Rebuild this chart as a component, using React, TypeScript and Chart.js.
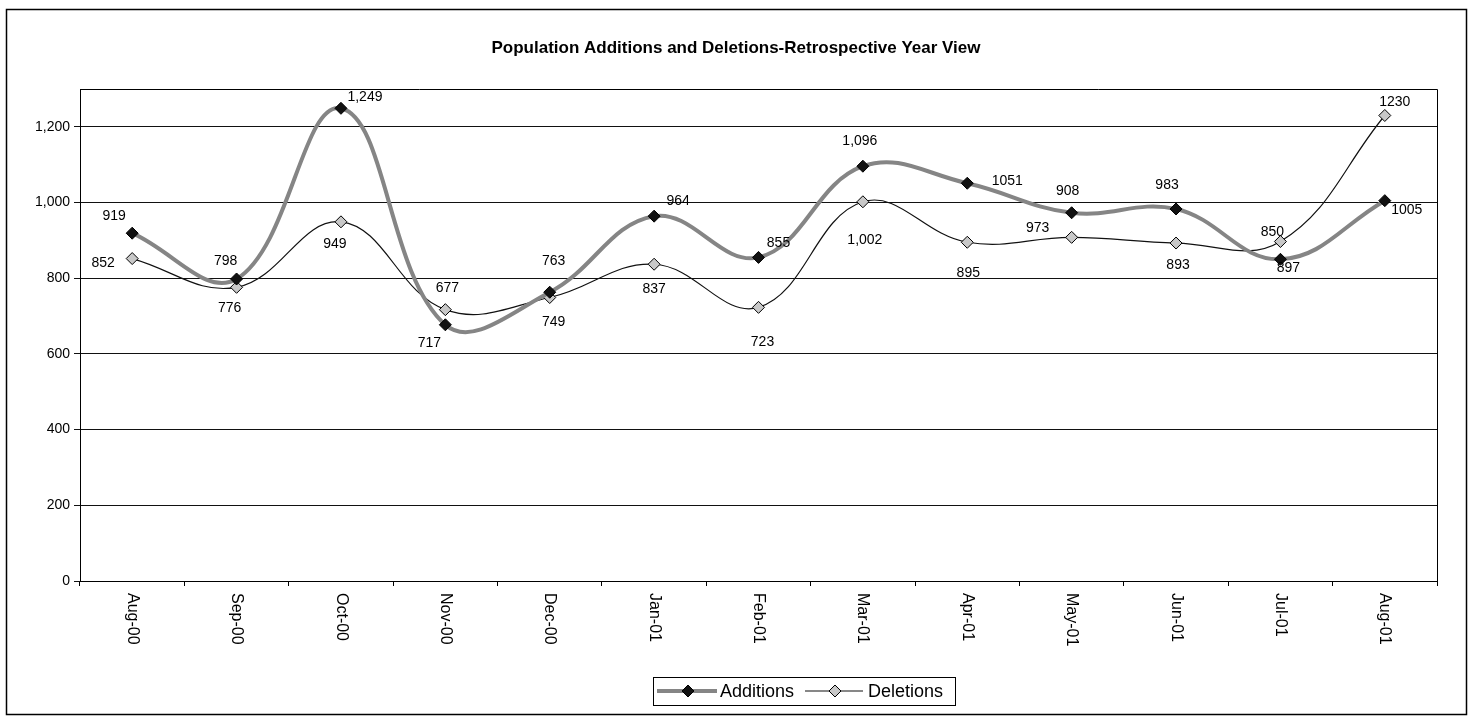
import React, { useEffect, useRef } from 'react';
import { Chart, registerables } from 'chart.js';

Chart.register(...registerables);

const titleText = 'Population Additions and Deletions-Retrospective Year View';

const categories = ['Aug-00', 'Sep-00', 'Oct-00', 'Nov-00', 'Dec-00', 'Jan-01', 'Feb-01', 'Mar-01', 'Apr-01', 'May-01', 'Jun-01', 'Jul-01', 'Aug-01'];

const additions = [919, 798, 1249, 677, 763, 964, 855, 1096, 1051, 973, 983, 850, 1005];
const deletions = [852, 776, 949, 717, 749, 837, 723, 1002, 895, 908, 893, 897, 1230];

const additionsLabels = ['919', '798', '1,249', '677', '763', '964', '855', '1,096', '1051', '973', '983', '850', '1005'];
const deletionsLabels = ['852', '776', '949', '717', '749', '837', '723', '1,002', '895', '908', '893', '897', '1230'];

// label placement relative to each point (dx, dy in px)
const additionsLabelOffsets: [number, number][] = [
  [-18, -17], [-11, -18], [24, -11], [2, -37], [4, -31], [24, -15], [20, -14],
  [-3, -25], [40, -2], [-34, 15], [-9, -24], [-8, -27], [22, 9],
];
const deletionsLabelOffsets: [number, number][] = [
  [-29, 5], [-7, 21], [-6, 22], [-16, 33], [4, 25], [0, 25], [4, 35],
  [2, 38], [1, 31], [-4, -46], [2, 22], [8, 27], [10, -13],
];

const yMin = 0;
const yMax = 1300;
const yStep = 200;

const FONT = '"Liberation Sans", Arial, Helvetica, sans-serif';
const ADD_LINE = '#858585';
const ADD_POINT = '#111111';
const DEL_LINE = '#111111';
const DEL_POINT = '#c8c8c8';

function diamond(ctx: CanvasRenderingContext2D, x: number, y: number, r: number, fill: string, stroke: string) {
  ctx.beginPath();
  ctx.moveTo(x, y - r);
  ctx.lineTo(x + r, y);
  ctx.lineTo(x, y + r);
  ctx.lineTo(x - r, y);
  ctx.closePath();
  ctx.fillStyle = fill;
  ctx.fill();
  ctx.lineWidth = 1;
  ctx.strokeStyle = stroke;
  ctx.stroke();
}

const decorPlugin = {
  id: 'decor',
  afterDatasetsDraw(chart: any) {
    const ctx: CanvasRenderingContext2D = chart.ctx;
    ctx.save();
    ctx.font = `14px ${FONT}`;
    ctx.fillStyle = '#000';
    ctx.textAlign = 'center';
    ctx.textBaseline = 'middle';
    const sets: [number, string[], [number, number][]][] = [
      [0, additionsLabels, additionsLabelOffsets],
      [1, deletionsLabels, deletionsLabelOffsets],
    ];
    sets.forEach(([idx, labels, offs]) => {
      const meta = chart.getDatasetMeta(idx);
      meta.data.forEach((pt: any, i: number) => {
        const [dx, dy] = offs[i];
        ctx.fillText(labels[i], pt.x + dx, pt.y + dy);
      });
    });
    ctx.restore();
  },
  afterDraw(chart: any) {
    const ctx: CanvasRenderingContext2D = chart.ctx;
    const area = chart.chartArea;
    ctx.save();

    // plot border (top and right)
    ctx.strokeStyle = '#000';
    ctx.lineWidth = 1;
    ctx.beginPath();
    ctx.moveTo(Math.round(area.left) + 0.5, Math.round(area.top) + 0.5);
    ctx.lineTo(Math.round(area.right) + 0.5, Math.round(area.top) + 0.5);
    ctx.lineTo(Math.round(area.right) + 0.5, Math.round(area.bottom) + 0.5);
    ctx.stroke();

    // outer border
    ctx.lineWidth = 1.5;
    ctx.strokeRect(6.5, 9.5, 1460, 705);

    // title
    ctx.fillStyle = '#000';
    ctx.font = `bold 17px ${FONT}`;
    ctx.textAlign = 'center';
    ctx.textBaseline = 'middle';
    ctx.fillText(titleText, 736, 48);

    // x category labels, rotated 90deg clockwise
    const xs = chart.scales.x;
    ctx.font = `16px ${FONT}`;
    categories.forEach((c, i) => {
      const x = xs.getPixelForValue(i);
      ctx.save();
      ctx.translate(x, area.bottom + 12);
      ctx.rotate(Math.PI / 2);
      ctx.textAlign = 'left';
      ctx.textBaseline = 'middle';
      ctx.fillText(c, 0, 0);
      ctx.restore();
    });

    // legend
    ctx.lineWidth = 1;
    ctx.strokeStyle = '#000';
    ctx.strokeRect(653.5, 677.5, 302, 28);
    const ly = 691;
    ctx.beginPath();
    ctx.strokeStyle = ADD_LINE;
    ctx.lineWidth = 4;
    ctx.moveTo(657, ly);
    ctx.lineTo(717, ly);
    ctx.stroke();
    diamond(ctx, 688, ly, 6, ADD_POINT, '#000');
    ctx.beginPath();
    ctx.strokeStyle = DEL_LINE;
    ctx.lineWidth = 1.2;
    ctx.moveTo(805, ly);
    ctx.lineTo(863, ly);
    ctx.stroke();
    diamond(ctx, 835, ly, 6, DEL_POINT, '#000');
    ctx.fillStyle = '#000';
    ctx.font = `18px ${FONT}`;
    ctx.textAlign = 'left';
    ctx.textBaseline = 'middle';
    ctx.fillText('Additions', 720, ly + 1);
    ctx.fillText('Deletions', 868, ly + 1);

    ctx.restore();
  },
};

export default function App() {
  const canvasRef = useRef<HTMLCanvasElement | null>(null);

  useEffect(() => {
    const canvas = canvasRef.current;
    if (!canvas) return;
    const chart = new Chart(canvas, {
      type: 'line',
      data: {
        labels: categories,
        datasets: [
          {
            label: 'Additions',
            data: additions,
            borderColor: ADD_LINE,
            borderWidth: 4,
            tension: 0.4,
            pointStyle: 'rectRot',
            pointRadius: 6,
            pointBackgroundColor: ADD_POINT,
            pointBorderColor: '#000',
            pointBorderWidth: 1,
            fill: false,
          },
          {
            label: 'Deletions',
            data: deletions,
            borderColor: DEL_LINE,
            borderWidth: 1.2,
            tension: 0.4,
            pointStyle: 'rectRot',
            pointRadius: 6,
            pointBackgroundColor: DEL_POINT,
            pointBorderColor: '#000',
            pointBorderWidth: 1,
            fill: false,
          },
        ],
      },
      options: {
        responsive: false,
        animation: false,
        devicePixelRatio: 1,
        layout: { padding: { top: 89, right: 35, bottom: 0, left: 0 } },
        plugins: {
          legend: { display: false },
          title: { display: false },
          tooltip: { enabled: false },
        },
        scales: {
          x: {
            type: 'category',
            offset: true,
            grid: {
              display: true,
              offset: true,
              drawOnChartArea: false,
              drawTicks: true,
              tickLength: 5,
              color: '#000',
            },
            border: { display: true, color: '#000', width: 1 },
            ticks: { display: false },
            afterFit: (scale: any) => {
              scale.height = 136;
            },
          },
          y: {
            min: yMin,
            max: yMax,
            grid: {
              color: '#111',
              lineWidth: 1,
              drawTicks: true,
              tickLength: 6,
            },
            border: { display: true, color: '#000', width: 1 },
            ticks: {
              stepSize: yStep,
              padding: 4,
              color: '#000',
              font: { family: FONT, size: 14 },
              callback: (v: any) => Number(v).toLocaleString('en-US'),
            },
            afterBuildTicks: (scale: any) => {
              scale.ticks = scale.ticks.filter((t: any) => t.value % yStep === 0);
            },
            afterFit: (scale: any) => {
              scale.width = 80;
            },
          },
        },
      },
      plugins: [decorPlugin],
    });
    return () => chart.destroy();
  }, []);

  return (
    <div style={{ position: 'fixed', left: 0, top: 0, width: 1472, height: 717, background: '#fff' }}>
      <canvas ref={canvasRef} width={1472} height={717} style={{ display: 'block' }} />
    </div>
  );
}
